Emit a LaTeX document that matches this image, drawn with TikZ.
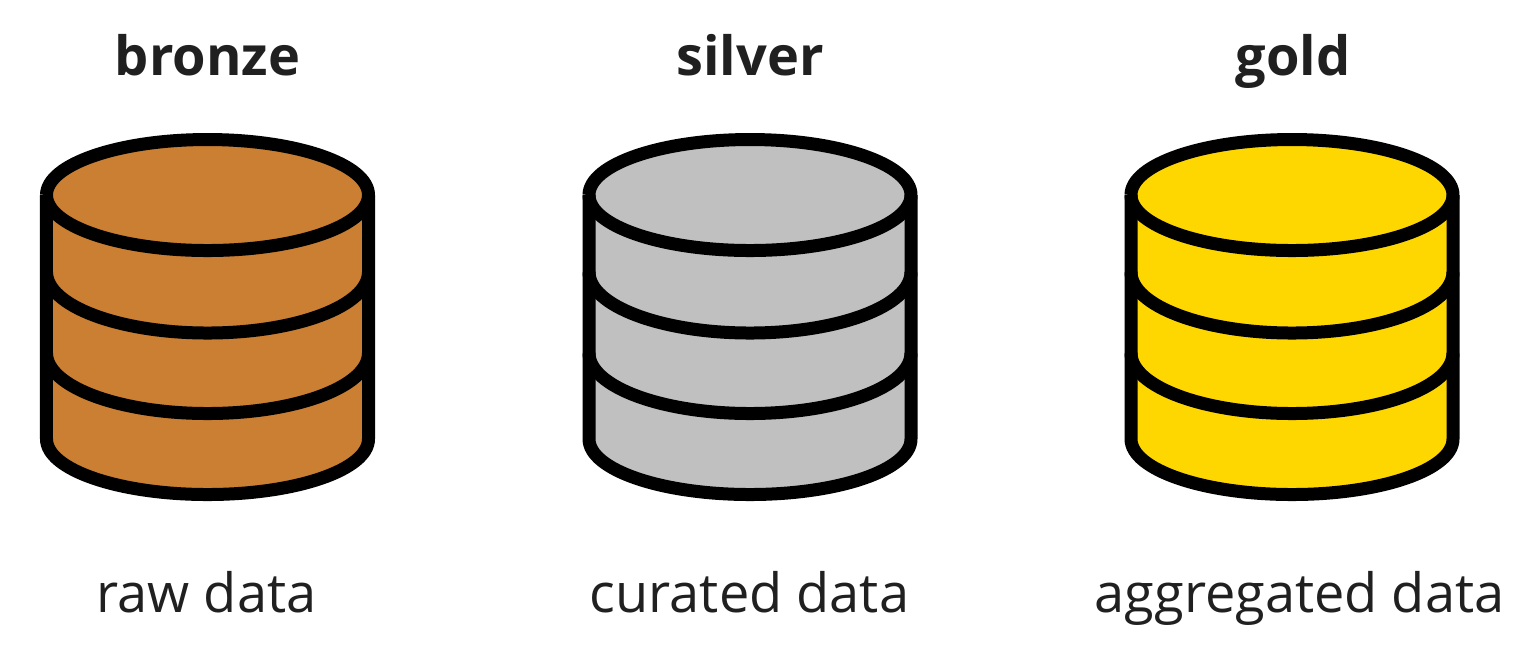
\documentclass[tikz,border=0pt]{standalone}
\usepackage{fontspec}
\setmainfont{Open Sans}
\usepackage{xcolor}
\usetikzlibrary{positioning}
\definecolor{bronzefill}{HTML}{CB7F32}
\definecolor{silverfill}{HTML}{C0C0C0}
\definecolor{goldfill}{HTML}{FFD700}
\definecolor{inktext}{HTML}{202020}
% one drum: centre x, colour
\newcommand{\drum}[2]{%
  \fill[#2] (#1-1.61,-1.95) arc[start angle=180,end angle=0,x radius=1.61,y radius=0.555]
     -- (#1+1.61,-4.39) arc[start angle=0,end angle=-180,x radius=1.61,y radius=0.555] -- cycle;
  \draw[drumline] (#1-1.61,-1.95) -- (#1-1.61,-4.39) arc[start angle=180,end angle=360,x radius=1.61,y radius=0.555] -- (#1+1.61,-1.95);
  \draw[drumline] (#1-1.61,-1.95) arc[start angle=180,end angle=-180,x radius=1.61,y radius=0.555];
  \draw[drumline] (#1-1.61,-2.72) arc[start angle=180,end angle=360,x radius=1.61,y radius=0.61];
  \draw[drumline] (#1-1.61,-3.53) arc[start angle=180,end angle=360,x radius=1.61,y radius=0.605];
}
\begin{document}
\begin{tikzpicture}[
    drumline/.style={draw=black, line width=1.3mm, line join=round},
    title/.style={font=\fontsize{15.4}{18}\selectfont\bfseries, text=inktext, anchor=base},
    caption/.style={font=\fontsize{15.4}{18}\selectfont, text=inktext, anchor=base}
]
\useasboundingbox (0,0) rectangle (15.35,-6.51);

% Drums
\drum{2.075}{bronzefill}
\drum{7.50}{silverfill}
\drum{12.92}{goldfill}

% Titles
\node[title] (bronzetitle) at (2.075,-0.75) {bronze};
\node[title] (silvertitle) at (7.50,-0.75) {silver};
\node[title] (goldtitle) at (12.93,-0.75) {gold};

% Captions
\node[caption] (rawcaption) at (2.065,-6.12) {raw data};
\node[caption] (curatedcaption) at (7.495,-6.12) {curated data};
\node[caption] (aggcaption) at (12.995,-6.12) {aggregated data};

\end{tikzpicture}
\end{document}
